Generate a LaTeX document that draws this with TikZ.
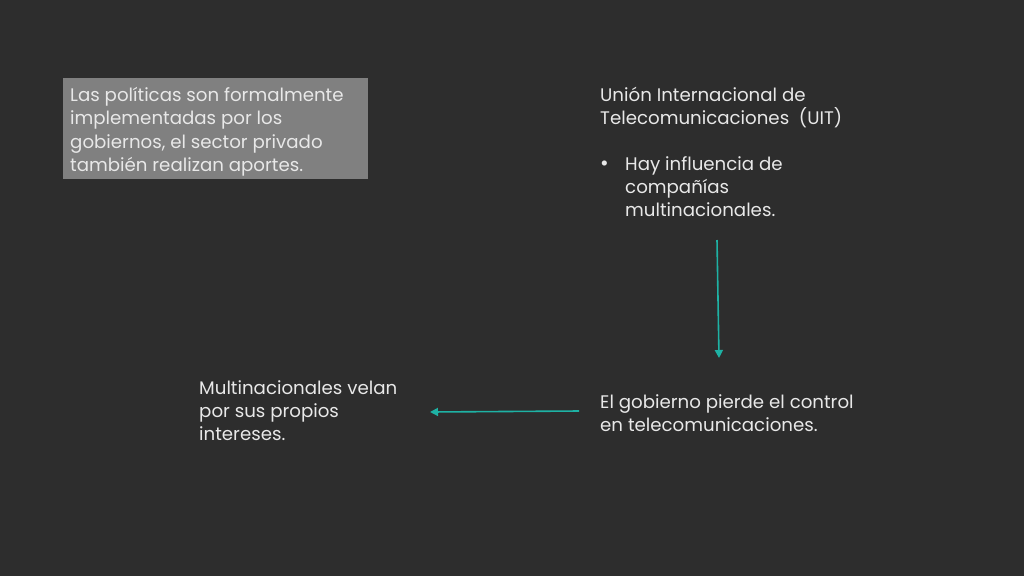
\documentclass[tikz,border=0pt]{standalone}
\usepackage{fontspec}
\setmainfont{Poppins}
\usetikzlibrary{arrows.meta}
\definecolor{bgc}{RGB}{45,45,45}
\definecolor{boxc}{RGB}{128,128,128}
\definecolor{txtc}{RGB}{232,232,232}
\definecolor{teal}{RGB}{30,178,164}
\tikzset{
  txt/.style={inner sep=0pt, anchor=north west, align=left, text=txtc,
    font=\fontsize{18.2}{23.3}\selectfont},
  conn/.style={draw=teal, line width=1.6pt, -{Triangle[length=8pt,width=8pt]}}
}
\begin{document}
\begin{tikzpicture}[x=1pt,y=-1pt]
\fill[bgc] (0,0) rectangle (1024,576);
\useasboundingbox (0,0) rectangle (1024,576);
\node[fill=boxc, minimum width=305pt, minimum height=101pt, anchor=north west, inner sep=0pt] (box) at (63,78) {};
\node[txt] (pol) at (70,87) {Las políticas son formalmente\\implementadas por los\\gobiernos, el sector privado\\también realizan aportes.};
\node[txt] (uit) at (600,87) {Unión Internacional de\\Telecomunicaciones~~(UIT)};
\node[txt] (bul) at (600,156) {\makebox[25pt][l]{\fontsize{21}{23.3}\selectfont•}Hay influencia de\\\hspace*{25pt}compañías\\\hspace*{25pt}multinacionales.};
\node[txt] (gob) at (600,394) {El gobierno pierde el control\\en telecomunicaciones.};
\node[txt] (mul) at (199,380) {Multinacionales velan\\por sus propios\\intereses.};
\coordinate (v1) at (717,240);
\coordinate (v2) at (719,358);
\coordinate (h1) at (579,411);
\coordinate (h2) at (430,412);
\draw[conn] (v1) -- (v2);
\draw[conn] (h1) -- (h2);
\end{tikzpicture}
\end{document}
